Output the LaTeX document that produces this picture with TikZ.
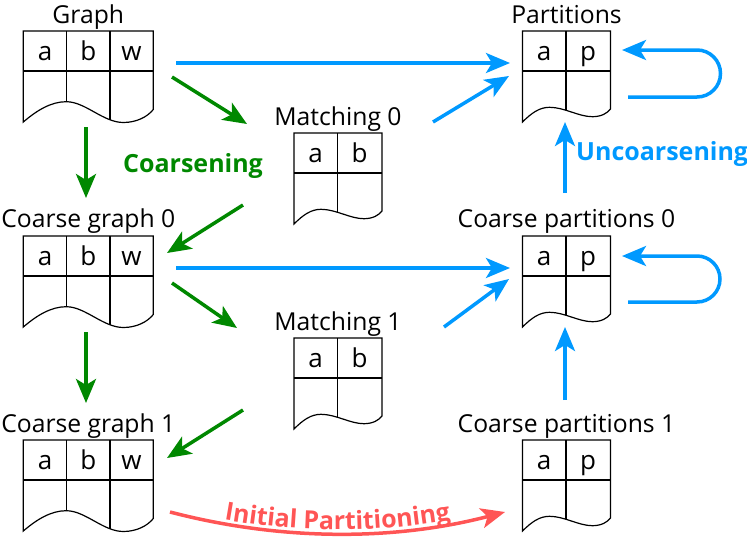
\documentclass[tikz,border=0pt]{standalone}
\usepackage{fontspec}
\setmainfont{Open Sans}
\usetikzlibrary{arrows.meta,decorations.text}
\definecolor{coarsegreen}{RGB}{0,136,0}
\definecolor{uncblue}{RGB}{0,153,255}
\definecolor{initred}{RGB}{255,85,85}

\tikzset{
  tabline/.style={line width=1.2pt, black},
  cell/.style={font=\fontsize{26}{30}\selectfont, anchor=base, inner sep=0pt},
  caption/.style={font=\fontsize{24.7}{29}\selectfont, anchor=base, inner sep=0pt},
  flow/.style={line width=3.5pt, -{Stealth[length=24pt,width=20pt,inset=6pt]}},
  coarsen/.style={flow, draw=coarsegreen, fill=none},
  uncoarsen/.style={flow, draw=uncblue, fill=none},
  phase/.style={font=\fontsize{25}{29}\selectfont\bfseries, anchor=base west, inner sep=0pt},
  % table with three columns and a torn lower edge
  pics/threecol/.style n args={3}{code={
    \draw[tabline] (0,0) -- (130,0) -- (130,78.5)
      .. controls (124,86) and (113,91.5) .. (100,91.5)
      .. controls (80,91.5) and (62,70.7) .. (43,70.7)
      .. controls (28,70.7) and (14,79) .. (0,91) -- cycle;
    \draw[tabline] (0,40) -- (130,40);
    \draw[tabline] (43.3,0) -- (43.3,70.7);
    \draw[tabline] (86.7,0) -- (86.7,88.8);
    \node[cell] at (21.7,29) {#1};
    \node[cell] at (65,29) {#2};
    \node[cell] at (108.3,29) {#3};
  }},
  % table with two columns and a torn lower edge
  pics/twocol/.style n args={2}{code={
    \draw[tabline] (0,0) -- (88,0) -- (88,78)
      .. controls (85,82) and (79,85.7) .. (70,85.7)
      .. controls (56,85.7) and (42,76.3) .. (27,76.3)
      .. controls (17,76.3) and (9,82) .. (0,91) -- cycle;
    \draw[tabline] (0,40) -- (88,40);
    \draw[tabline] (43.5,0) -- (43.5,79.3);
    \node[cell] at (21.7,29) {#1};
    \node[cell] at (65.5,29) {#2};
  }}
}

\begin{document}
\begin{tikzpicture}[x=1pt,y=-1pt]
\useasboundingbox (0,0) rectangle (747,539);

% ---- tables ----
\pic at (23.3,31)  {threecol={a}{b}{w}};
\pic at (23.3,236) {threecol={a}{b}{w}};
\pic at (23.3,440) {threecol={a}{b}{w}};
\pic at (294,133)  {twocol={a}{b}};
\pic at (294,338)  {twocol={a}{b}};
\pic at (522.5,31) {twocol={a}{p}};
\pic at (522.5,236) {twocol={a}{p}};
\pic at (522.5,440) {twocol={a}{p}};

% ---- captions ----
\node[caption] (graph) at (88.3,23) {Graph};
\node[caption] (cgraph0) at (88.3,227) {Coarse graph 0};
\node[caption] (cgraph1) at (88.3,432) {Coarse graph 1};
\node[caption] (match0) at (338,125) {Matching 0};
\node[caption] (match1) at (338,330) {Matching 1};
\node[caption] (parts) at (566.5,23) {Partitions};
\node[caption] (cparts0) at (566.5,227) {Coarse partitions 0};
\node[caption] (cparts1) at (566.5,432) {Coarse partitions 1};

\node[phase, text=coarsegreen] (coarsening) at (123,172) {Coarsening};
\node[phase, text=uncblue] (uncoarsening) at (576,160) {Uncoarsening};

% ---- connector ends ----
\coordinate (g-right)   at (176,63);
\coordinate (g-diag)    at (172,77);
\coordinate (g-down)    at (86,127);
\coordinate (m0-in)     at (247,124);
\coordinate (m0-up)     at (433,122);
\coordinate (m0-down)   at (243,205);
\coordinate (cg0-top)   at (86,198);
\coordinate (cg0-in)    at (167,253);
\coordinate (cg0-right) at (176,268);
\coordinate (cg0-diag)  at (172,283);
\coordinate (cg0-down)  at (86,332);
\coordinate (m1-in)     at (237,328);
\coordinate (m1-up)     at (444,327);
\coordinate (m1-down)   at (243,410);
\coordinate (cg1-top)   at (86,403);
\coordinate (cg1-in)    at (167,458);
\coordinate (cg1-right) at (170,512);
\coordinate (p-in)      at (510,63);
\coordinate (p-diag)    at (509,76);
\coordinate (p-below)   at (565,122);
\coordinate (p-lout)    at (628,97);
\coordinate (p-lin)     at (622,50);
\coordinate (cp0-up)    at (565,193);
\coordinate (cp0-in)    at (510,268);
\coordinate (cp0-diag)  at (509,279);
\coordinate (cp0-below) at (565,327);
\coordinate (cp0-lout)  at (628,302);
\coordinate (cp0-lin)   at (622,256);
\coordinate (cp1-up)    at (565,400);
\coordinate (cp1-in)    at (505,512);

% ---- coarsening ----
\draw[coarsen] (g-diag) -- (m0-in);
\draw[coarsen] (g-down) -- (cg0-top);
\draw[coarsen] (m0-down) -- (cg0-in);
\draw[coarsen] (cg0-diag) -- (m1-in);
\draw[coarsen] (cg0-down) -- (cg1-top);
\draw[coarsen] (m1-down) -- (cg1-in);

% ---- uncoarsening ----
\draw[uncoarsen] (g-right) -- (p-in);
\draw[uncoarsen] (m0-up) -- (p-diag);
\draw[uncoarsen] (cp0-up) -- (p-below);
\draw[uncoarsen] (p-lout) -- ++(69,0) arc[start angle=90, end angle=-90, radius=23.5] -- (p-lin);
\draw[uncoarsen] (cg0-right) -- (cp0-in);
\draw[uncoarsen] (m1-up) -- (cp0-diag);
\draw[uncoarsen] (cp1-up) -- (cp0-below);
\draw[uncoarsen] (cp0-lout) -- ++(69,0) arc[start angle=90, end angle=-90, radius=23] -- (cp0-lin);

% ---- initial partitioning ----
\draw[flow, draw=initred,
  postaction={decorate, decoration={text along path, text align=center, raise=4pt,
    text={|\fontsize{25}{29}\selectfont\bfseries\color{initred}|Initial Partitioning}}}]
  (cg1-right) .. controls (281,541) and (394,541) .. (cp1-in);
\end{tikzpicture}
\end{document}
